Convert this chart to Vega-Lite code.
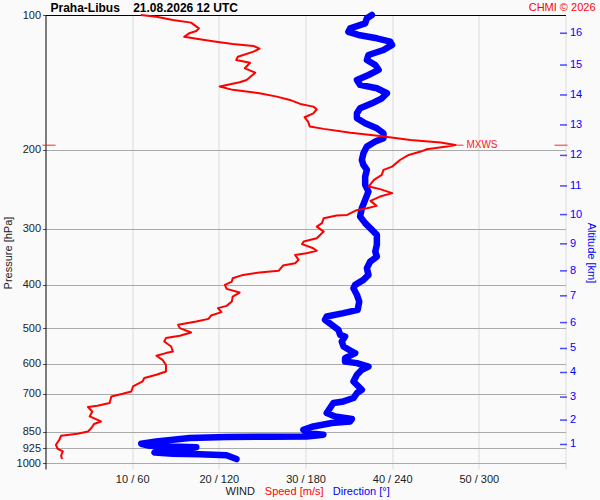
{
  "$schema": "https://vega.github.io/schema/vega-lite/v6.json",
  "width": 520,
  "height": 454,
  "autosize": {"type": "none"},
  "padding": {"left": 45.5, "top": 15, "right": 34.5, "bottom": 31},
  "background": "#fafafa",
  "config": {"font": "Liberation Sans", "view": {"stroke": null}},
  "datasets": {
    "speed": [
      {"p": 100.0, "s": 11.0}, {"p": 100.9, "s": 12.8}, {"p": 102.6, "s": 14.7}, {"p": 104.0, "s": 16.8},
      {"p": 107.1, "s": 17.7}, {"p": 108.6, "s": 17.4}, {"p": 109.8, "s": 16.6}, {"p": 111.8, "s": 16.0},
      {"p": 113.3, "s": 17.8}, {"p": 114.7, "s": 19.7}, {"p": 116.0, "s": 21.6}, {"p": 117.2, "s": 24.0},
      {"p": 118.9, "s": 24.7}, {"p": 120.7, "s": 24.0}, {"p": 123.9, "s": 22.2}, {"p": 126.0, "s": 22.0},
      {"p": 127.8, "s": 23.6}, {"p": 131.5, "s": 23.0}, {"p": 134.5, "s": 24.2}, {"p": 139.6, "s": 23.2},
      {"p": 141.3, "s": 22.4}, {"p": 144.4, "s": 20.1}, {"p": 146.9, "s": 21.6}, {"p": 149.5, "s": 24.7},
      {"p": 152.1, "s": 26.7}, {"p": 154.7, "s": 28.2}, {"p": 157.9, "s": 29.4}, {"p": 160.1, "s": 30.9},
      {"p": 162.3, "s": 31.3}, {"p": 165.7, "s": 30.9}, {"p": 169.1, "s": 29.9}, {"p": 172.9, "s": 30.3},
      {"p": 177.4, "s": 30.5}, {"p": 179.5, "s": 32.1}, {"p": 183.0, "s": 35.2}, {"p": 186.1, "s": 38.6},
      {"p": 190.0, "s": 42.1}, {"p": 192.6, "s": 45.6}, {"p": 194.9, "s": 47.3}, {"p": 196.6, "s": 46.3},
      {"p": 199.3, "s": 44.0}, {"p": 201.7, "s": 43.3}, {"p": 205.2, "s": 41.9}, {"p": 210.6, "s": 40.9},
      {"p": 217.9, "s": 40.0}, {"p": 221.6, "s": 39.0}, {"p": 227.4, "s": 38.8}, {"p": 233.3, "s": 37.9},
      {"p": 241.3, "s": 37.3}, {"p": 244.6, "s": 38.6}, {"p": 249.7, "s": 40.0}, {"p": 254.1, "s": 38.6},
      {"p": 259.8, "s": 37.5}, {"p": 266.6, "s": 38.2}, {"p": 269.8, "s": 37.1}, {"p": 272.5, "s": 35.9},
      {"p": 279.2, "s": 34.8}, {"p": 280.2, "s": 33.6}, {"p": 284.0, "s": 32.1}, {"p": 291.3, "s": 31.9},
      {"p": 296.5, "s": 31.3}, {"p": 304.2, "s": 32.1}, {"p": 314.7, "s": 31.3}, {"p": 320.2, "s": 29.8},
      {"p": 324.5, "s": 29.6}, {"p": 331.3, "s": 30.9}, {"p": 335.9, "s": 31.3}, {"p": 339.9, "s": 30.1},
      {"p": 342.9, "s": 28.8}, {"p": 351.8, "s": 29.2}, {"p": 357.8, "s": 28.8}, {"p": 362.2, "s": 27.4},
      {"p": 372.2, "s": 26.9}, {"p": 375.5, "s": 24.7}, {"p": 380.0, "s": 22.8}, {"p": 386.5, "s": 21.6},
      {"p": 393.3, "s": 21.5}, {"p": 400.0, "s": 20.7}, {"p": 408.3, "s": 20.9}, {"p": 416.1, "s": 22.4},
      {"p": 424.8, "s": 21.6}, {"p": 435.8, "s": 21.5}, {"p": 445.6, "s": 20.9}, {"p": 450.8, "s": 19.9},
      {"p": 460.2, "s": 20.3}, {"p": 468.3, "s": 19.1}, {"p": 476.3, "s": 18.8}, {"p": 483.0, "s": 17.4},
      {"p": 491.2, "s": 15.3}, {"p": 499.5, "s": 15.5}, {"p": 510.9, "s": 16.8}, {"p": 519.6, "s": 15.5},
      {"p": 525.8, "s": 13.9}, {"p": 535.1, "s": 13.7}, {"p": 549.0, "s": 14.5}, {"p": 563.3, "s": 14.7},
      {"p": 567.9, "s": 13.9}, {"p": 575.8, "s": 12.8}, {"p": 587.8, "s": 13.5}, {"p": 603.1, "s": 13.9},
      {"p": 624.1, "s": 13.9}, {"p": 634.7, "s": 12.8}, {"p": 645.6, "s": 11.4}, {"p": 657.0, "s": 11.2},
      {"p": 674.1, "s": 10.1}, {"p": 691.6, "s": 9.9}, {"p": 699.8, "s": 8.9}, {"p": 709.6, "s": 7.6},
      {"p": 734.0, "s": 7.4}, {"p": 744.3, "s": 6.0}, {"p": 749.3, "s": 4.9}, {"p": 766.4, "s": 5.4},
      {"p": 786.3, "s": 5.1}, {"p": 806.8, "s": 6.4}, {"p": 817.6, "s": 5.6}, {"p": 834.6, "s": 5.3},
      {"p": 849.3, "s": 4.9}, {"p": 859.4, "s": 3.7}, {"p": 868.3, "s": 1.8}, {"p": 886.3, "s": 1.6},
      {"p": 909.3, "s": 1.2}, {"p": 928.2, "s": 1.4}, {"p": 941.1, "s": 2.0}, {"p": 962.1, "s": 1.8},
      {"p": 978.7, "s": 1.9}
    ],
    "direction": [
      {"p": 100.0, "d": 226.0}, {"p": 101.7, "d": 222.5}, {"p": 104.4, "d": 221.3}, {"p": 107.1, "d": 210.9},
      {"p": 109.0, "d": 209.7}, {"p": 110.8, "d": 216.7}, {"p": 112.7, "d": 229.4}, {"p": 114.7, "d": 238.7},
      {"p": 116.6, "d": 239.9}, {"p": 119.7, "d": 234.0}, {"p": 122.8, "d": 223.6}, {"p": 126.0, "d": 222.5},
      {"p": 129.3, "d": 228.3}, {"p": 132.6, "d": 230.6}, {"p": 136.1, "d": 223.6}, {"p": 139.6, "d": 215.6},
      {"p": 143.2, "d": 217.8}, {"p": 145.7, "d": 229.4}, {"p": 149.5, "d": 236.4}, {"p": 153.4, "d": 232.9},
      {"p": 157.4, "d": 226.0}, {"p": 161.5, "d": 217.8}, {"p": 165.7, "d": 215.6}, {"p": 170.0, "d": 215.6},
      {"p": 174.4, "d": 221.3}, {"p": 178.9, "d": 229.4}, {"p": 183.6, "d": 234.0}, {"p": 188.3, "d": 234.0},
      {"p": 191.6, "d": 228.3}, {"p": 196.6, "d": 222.5}, {"p": 203.4, "d": 220.1}, {"p": 210.6, "d": 219.0},
      {"p": 216.0, "d": 220.1}, {"p": 221.6, "d": 222.5}, {"p": 229.4, "d": 221.3}, {"p": 239.3, "d": 221.3},
      {"p": 247.7, "d": 223.6}, {"p": 258.5, "d": 221.3}, {"p": 269.8, "d": 219.0}, {"p": 281.6, "d": 217.8},
      {"p": 291.3, "d": 221.3}, {"p": 301.6, "d": 226.0}, {"p": 309.4, "d": 229.4}, {"p": 325.7, "d": 229.4},
      {"p": 337.1, "d": 228.3}, {"p": 345.9, "d": 229.4}, {"p": 354.8, "d": 224.8}, {"p": 367.1, "d": 222.5},
      {"p": 380.0, "d": 223.6}, {"p": 389.9, "d": 220.1}, {"p": 400.0, "d": 214.4}, {"p": 406.8, "d": 213.2},
      {"p": 421.1, "d": 215.6}, {"p": 435.8, "d": 217.2}, {"p": 454.8, "d": 216.1}, {"p": 462.6, "d": 206.3},
      {"p": 470.7, "d": 194.7}, {"p": 478.6, "d": 193.5}, {"p": 491.2, "d": 198.2}, {"p": 504.0, "d": 202.8},
      {"p": 517.0, "d": 204.0}, {"p": 521.5, "d": 207.4}, {"p": 535.1, "d": 205.1}, {"p": 549.0, "d": 206.3},
      {"p": 563.3, "d": 212.1}, {"p": 567.9, "d": 214.4}, {"p": 582.8, "d": 207.4}, {"p": 593.1, "d": 207.4},
      {"p": 598.0, "d": 215.6}, {"p": 608.5, "d": 223.6}, {"p": 618.7, "d": 219.0}, {"p": 634.7, "d": 215.6},
      {"p": 657.0, "d": 213.2}, {"p": 685.6, "d": 219.0}, {"p": 697.3, "d": 215.6}, {"p": 715.4, "d": 213.2},
      {"p": 728.0, "d": 206.3}, {"p": 734.0, "d": 199.3}, {"p": 753.1, "d": 197.0}, {"p": 772.8, "d": 194.7},
      {"p": 786.3, "d": 200.5}, {"p": 796.9, "d": 212.1}, {"p": 806.8, "d": 210.9}, {"p": 813.5, "d": 198.2},
      {"p": 827.8, "d": 185.4}, {"p": 842.0, "d": 178.5}, {"p": 856.3, "d": 180.8}, {"p": 863.8, "d": 192.4},
      {"p": 871.4, "d": 180.8}, {"p": 872.8, "d": 155.3}, {"p": 873.5, "d": 125.3}, {"p": 878.7, "d": 99.8},
      {"p": 894.1, "d": 76.7}, {"p": 904.7, "d": 66.3}, {"p": 914.1, "d": 72.0}, {"p": 921.2, "d": 104.4},
      {"p": 930.7, "d": 94.9}, {"p": 937.7, "d": 76.7}, {"p": 946.1, "d": 75.5}, {"p": 952.4, "d": 88.2},
      {"p": 954.8, "d": 106.7}, {"p": 959.7, "d": 125.3}, {"p": 978.7, "d": 132.2}
    ],
    "altitude": [
      {"km": 1, "p": 908.0}, {"km": 2, "p": 801.1}, {"km": 3, "p": 711.9}, {"km": 4, "p": 627.4},
      {"km": 5, "p": 554.6}, {"km": 6, "p": 485.5}, {"km": 7, "p": 423.2}, {"km": 8, "p": 372.2},
      {"km": 9, "p": 324.0}, {"km": 10, "p": 278.8}, {"km": 11, "p": 240.6}, {"km": 12, "p": 205.7},
      {"km": 13, "p": 175.9}, {"km": 14, "p": 150.8}, {"km": 15, "p": 129.3}, {"km": 16, "p": 109.8}
    ],
    "maxwind": [{"p": 195.2, "s": 47.3, "label": "MXWS"}]
  },
  "layer": [
    {
      "data": {"name": "direction"},
      "mark": {"type": "line", "color": "#0000ff", "strokeWidth": 6.5, "strokeJoin": "round", "strokeCap": "round"},
      "encoding": {
        "x": {"field": "d", "type": "quantitative", "scale": {"domain": [0, 360]},
          "axis": {"orient": "bottom", "labels": false, "ticks": false, "domain": false, "grid": false,
            "title": "Direction [°]", "titleColor": "#0000ff", "titleFontSize": 11, "titleFontWeight": "normal",
            "titleX": 286.8, "titleY": 22, "titleAlign": "left", "titleBaseline": "middle"}},
        "y": {"field": "p", "type": "quantitative", "scale": {"type": "log", "domain": [100, 1030], "reverse": true},
          "axis": {"orient": "right", "labels": false, "ticks": false, "domain": false, "grid": false,
            "title": "Altitude [km]", "titleColor": "#0000ff", "titleFontSize": 11, "titleFontWeight": "normal",
            "titleX": 24.5, "titleY": 237.5, "titleAngle": 90, "titleAlign": "center", "titleBaseline": "middle"}},
        "order": {"field": "p", "type": "quantitative"}
      }
    },
    {
      "data": {"name": "speed"},
      "mark": {"type": "line", "color": "#ff0000", "strokeWidth": 2, "strokeJoin": "round"},
      "encoding": {
        "x": {"field": "s", "type": "quantitative", "scale": {"domain": [0, 60]},
          "axis": {"orient": "bottom", "values": [10, 20, 30, 40, 50, 60],
            "labelExpr": "datum.value < 60 ? datum.value + ' / ' + datum.value * 6 : ''",
            "grid": true, "gridColor": "#dcdcdc", "domain": false, "ticks": false,
            "labelPadding": 4, "labelFontSize": 11, "labelColor": "#222222",
            "title": "Speed [m/s]", "titleColor": "#ff0000", "titleFontSize": 11, "titleFontWeight": "normal",
            "titleX": 218.8, "titleY": 22, "titleAlign": "left", "titleBaseline": "middle"}},
        "y": {"field": "p", "type": "quantitative", "scale": {"type": "log", "domain": [100, 1030], "reverse": true},
          "axis": {"orient": "left", "values": [100, 200, 300, 400, 500, 600, 700, 850, 925, 1000], "format": "d",
            "labelOverlap": false, "grid": true, "gridColor": "#aaaaaa", "domainColor": "#000000",
            "tickColor": "#555555", "tickSize": 3, "labelPadding": 2, "labelFontSize": 11, "labelColor": "#222222",
            "title": "Pressure [hPa]", "titleColor": "#222222", "titleFontSize": 11, "titleFontWeight": "normal",
            "titleX": -37.5, "titleY": 237.5, "titleAngle": 270, "titleAlign": "center", "titleBaseline": "middle"}},
        "order": {"field": "p", "type": "quantitative"}
      }
    },
    {
      "data": {"name": "altitude"},
      "mark": {"type": "tick", "orient": "horizontal", "color": "#0000ff", "size": 7, "thickness": 1.5, "xOffset": -2},
      "encoding": {
        "x": {"datum": 60, "type": "quantitative", "scale": {"domain": [0, 60]},
          "axis": {"orient": "top", "labels": false, "ticks": false, "grid": false, "domain": true,
            "domainColor": "#000000", "domainWidth": 1,
            "title": "CHMI © 2026", "titleColor": "#ff0000", "titleFontSize": 11, "titleFontWeight": "normal",
            "titleX": 549.5, "titleY": -8, "titleAlign": "right", "titleBaseline": "middle"}},
        "y": {"field": "p", "type": "quantitative", "scale": {"type": "log", "domain": [100, 1030], "reverse": true}, "axis": null}
      }
    },
    {
      "data": {"name": "altitude"},
      "mark": {"type": "text", "color": "#0000ff", "fontSize": 11, "align": "left", "baseline": "middle", "dx": 4.5},
      "encoding": {
        "x": {"datum": 60, "type": "quantitative", "scale": {"domain": [0, 60]},
          "axis": {"orient": "top", "labels": false, "ticks": false, "grid": false, "domain": false,
            "title": "Praha-Libus\u00a0\u00a0\u00a0\u00a021.08.2026 12 UTC", "titleColor": "#000000", "titleFontSize": 12,
            "titleFontWeight": "bold", "titleX": 4.5, "titleY": -8, "titleAlign": "left", "titleBaseline": "middle"}},
        "y": {"field": "p", "type": "quantitative", "scale": {"type": "log", "domain": [100, 1030], "reverse": true}, "axis": null},
        "text": {"field": "km", "type": "quantitative"}
      }
    },
    {
      "data": {"name": "maxwind"},
      "mark": {"type": "text", "color": "#ff2020", "fontSize": 10, "align": "left", "baseline": "middle", "dx": 11},
      "encoding": {
        "x": {"field": "s", "type": "quantitative", "scale": {"domain": [0, 60]},
          "axis": {"orient": "bottom", "labels": false, "ticks": false, "grid": false, "domain": false,
            "title": "WIND", "titleColor": "#222222", "titleFontSize": 11, "titleFontWeight": "normal",
            "titleX": 179.5, "titleY": 22, "titleAlign": "left", "titleBaseline": "middle"}},
        "y": {"field": "p", "type": "quantitative", "scale": {"type": "log", "domain": [100, 1030], "reverse": true}, "axis": null},
        "text": {"field": "label"}
      }
    },
    {
      "data": {"name": "maxwind"},
      "mark": {"type": "tick", "orient": "horizontal", "color": "#ff0000", "size": 8, "thickness": 1.2, "xOffset": 4},
      "encoding": {
        "x": {"field": "s", "type": "quantitative", "scale": {"domain": [0, 60]}, "axis": null},
        "y": {"field": "p", "type": "quantitative", "scale": {"type": "log", "domain": [100, 1030], "reverse": true}, "axis": null}
      }
    },
    {
      "data": {"name": "maxwind"},
      "mark": {"type": "tick", "orient": "horizontal", "color": "#ff0000", "size": 13, "thickness": 1.2, "xOffset": 3.5},
      "encoding": {
        "x": {"datum": 0, "type": "quantitative", "scale": {"domain": [0, 60]}, "axis": null},
        "y": {"field": "p", "type": "quantitative", "scale": {"type": "log", "domain": [100, 1030], "reverse": true}, "axis": null}
      }
    },
    {
      "data": {"name": "maxwind"},
      "mark": {"type": "tick", "orient": "horizontal", "color": "#ff0000", "size": 13, "thickness": 1.2, "xOffset": -4.5},
      "encoding": {
        "x": {"datum": 60, "type": "quantitative", "scale": {"domain": [0, 60]}, "axis": null},
        "y": {"field": "p", "type": "quantitative", "scale": {"type": "log", "domain": [100, 1030], "reverse": true}, "axis": null}
      }
    }
  ],
  "resolve": {"scale": {"x": "independent"}, "axis": {"x": "independent", "y": "independent"}}
}
